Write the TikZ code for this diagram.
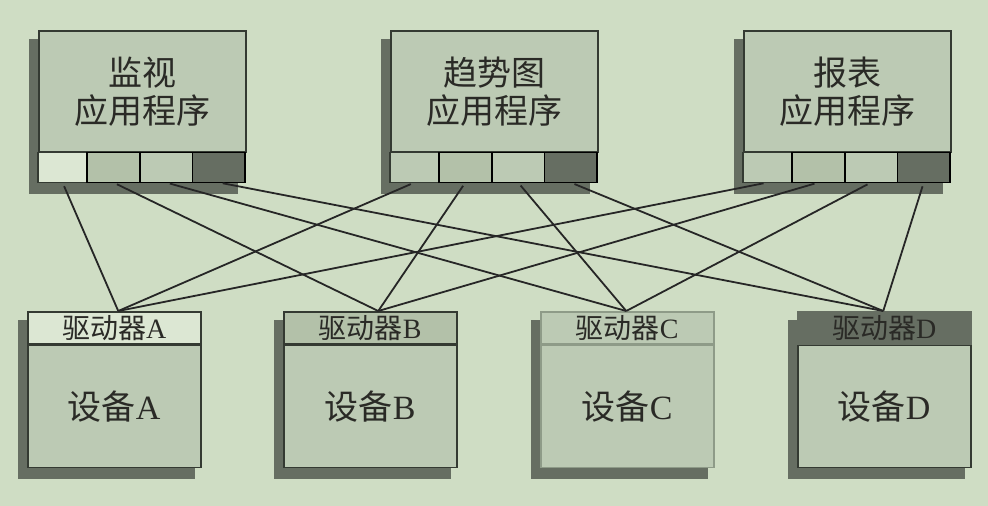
\documentclass[tikz,border=0pt]{standalone}
\usepackage{fontspec}
\setmainfont{Liberation Serif}
\newfontfamily\cjk{Noto Sans CJK SC}
\usetikzlibrary{positioning,calc,backgrounds}

\definecolor{bgc}{HTML}{CFDDC4}
\definecolor{boxc}{HTML}{BCCAB4}
\definecolor{midc}{HTML}{B3C1A9}
\definecolor{lightc}{HTML}{DCE7D3}
\definecolor{darkc}{HTML}{666E62}
\definecolor{edgec}{HTML}{343A32}
\definecolor{greyedge}{HTML}{8E9B88}
\definecolor{inkc}{HTML}{2A2A26}

\tikzset{
  appbox/.style={draw=edgec,line width=1.5pt,fill=boxc,minimum width=207pt,minimum height=121pt,
    anchor=north west,align=center,inner sep=0pt,text=inkc,font=\cjk\fontsize{34}{38}\selectfont},
  cell/.style={draw=black,line width=1.8pt,minimum width=52.7pt,minimum height=30pt,
    anchor=north west,inner sep=0pt,outer sep=0pt},
  drvbox/.style={draw=edgec,line width=1.5pt,minimum width=173pt,minimum height=32pt,
    anchor=north west,inner sep=0pt,text=inkc,font=\fontsize{28}{30}\selectfont},
  devbox/.style={draw=edgec,line width=1.8pt,fill=boxc,minimum width=173pt,minimum height=122pt,
    inner sep=0pt,text=inkc,font=\fontsize{34}{36}\selectfont},
  link/.style={draw=black!85,line width=1.8pt,shorten <=4pt}
}

\begin{document}
\begin{tikzpicture}[x=1pt,y=-1pt]
\useasboundingbox (0,0) rectangle (988,506);

% application programs with their four slots
\foreach \a/\x/\title/\first in {1/38/监视/lightc,2/390/趋势图/boxc,3/743/报表/boxc} {
  \node[appbox] (app\a) at (\x,30) {\title\\应用程序};
  \node[cell,fill=\first,draw=edgec,line width=1.2pt,minimum width=49pt] (s\a1) at (app\a.south west) {};
  \node[cell,fill=midc,right=0pt of s\a1] (s\a2) {};
  \node[cell,fill=boxc,right=0pt of s\a2] (s\a3) {};
  \node[cell,fill=darkc,right=0pt of s\a3] (s\a4) {};
}

% drivers and devices
\node[drvbox,fill=lightc] (drvA) at (27,311) {{\cjk 驱动器}A};
\node[drvbox,fill=midc] (drvB) at (283,311) {{\cjk 驱动器}B};
\node[drvbox,fill=boxc,draw=greyedge] (drvC) at (540,311) {{\cjk 驱动器}C};
\node[drvbox,fill=darkc,draw=darkc] (drvD) at (797,311) {{\cjk 驱动器}D};
\node[devbox,below=0pt of drvA] (devA) {{\cjk 设备}A};
\node[devbox,below=0pt of drvB] (devB) {{\cjk 设备}B};
\node[devbox,draw=greyedge,below=0pt of drvC] (devC) {{\cjk 设备}C};
\node[devbox,below=0pt of drvD] (devD) {{\cjk 设备}D};

\coordinate (jA) at ($(drvA.north)+(4,0)$);
\coordinate (jB) at ($(drvB.north)+(8,0)$);
\coordinate (jC) at ($(drvC.north)+(-1,0)$);
\coordinate (jD) at ($(drvD.north)+(-1,0)$);

% every slot goes to one driver
\foreach \a in {1,2,3}
  \foreach \k/\d in {1/A,2/B,3/C,4/D}
    \draw[link] (s\a\k.south) -- (j\d);

\begin{scope}[on background layer]
  \fill[bgc] (0,0) rectangle (988,506);
  \foreach \n/\m in {app1/s14,app2/s24,app3/s34,drvA/devA,drvB/devB,drvC/devC,drvD/devD}
    \fill[darkc] ($(\n.north west)+(-9,9)$) rectangle ($(\m.south east)+(-7,11)$);
\end{scope}
\end{tikzpicture}
\end{document}
